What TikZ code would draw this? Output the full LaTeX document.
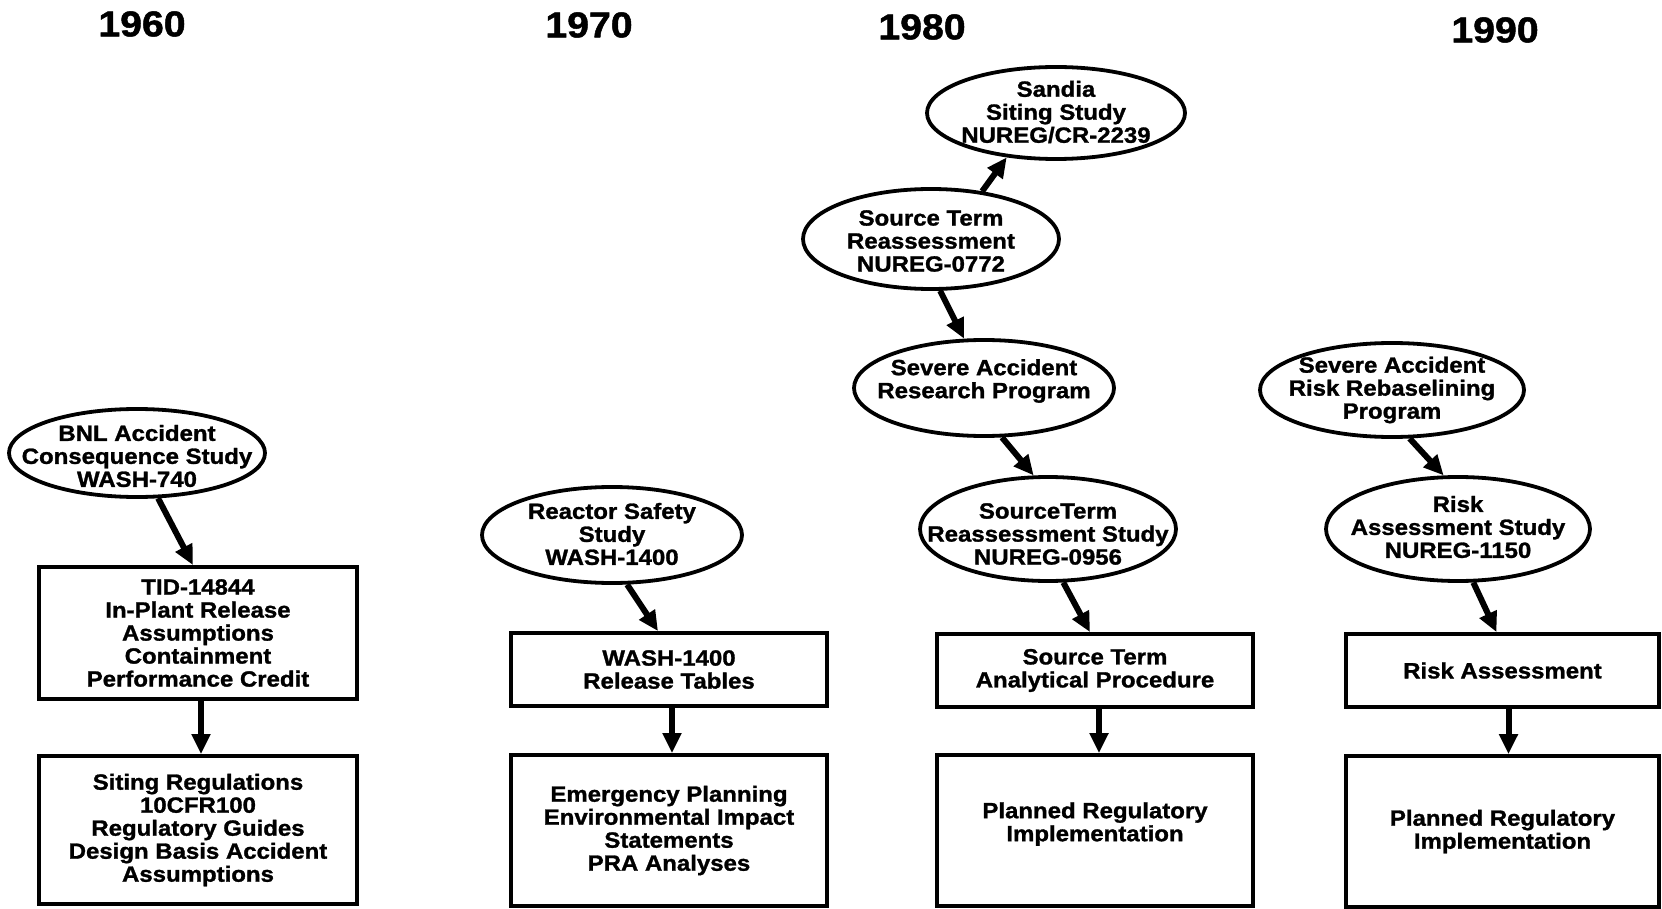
\documentclass[tikz,border=0pt]{standalone}
\usepackage{fontspec}
\setmainfont{Liberation Sans}[FakeStretch=1.09, BoldFeatures={FakeBold=1.3}]
\usetikzlibrary{shapes.geometric,arrows.meta}
\newcommand\dgfont{\fontsize{22}{23}\selectfont\bfseries}
\newcommand\yrfont{\fontsize{36}{36}\selectfont\bfseries\addfontfeatures{FakeBold=2.5}}
\begin{document}
\begin{tikzpicture}[x=1pt,y=-1pt,
  ell/.style={ellipse, draw, line width=3.8pt, inner sep=0pt},
  box/.style={rectangle, draw, line width=3.8pt, inner sep=0pt, align=center, font=\dgfont},
  etxt/.style={align=center, font=\dgfont, inner sep=0pt},
  year/.style={font=\yrfont, inner sep=0pt},
  arr/.style={line width=6pt, -{Triangle[length=20pt,width=18pt]}}]
\useasboundingbox (0,0) rectangle (1662,909);
% years
\node[year] (y60) at (142,24) {1960};
\node[year] (y70) at (589,25) {1970};
\node[year] (y80) at (922,27) {1980};
\node[year] (y90) at (1495,30) {1990};
% column 1960
\node[ell, minimum width=256pt, minimum height=88pt] (bnl) at (137,453) {};
\node[etxt] (bnlt) at (137,456) {BNL Accident\\Consequence Study\\WASH-740};
\node[box, minimum width=318pt, minimum height=132pt] (tid) at (198,633) {TID-14844\\In-Plant Release\\Assumptions\\Containment\\Performance Credit};
\node[box, minimum width=318pt, minimum height=148pt] (sit) at (198,830) {Siting Regulations\\10CFR100\\Regulatory Guides\\Design Basis Accident\\Assumptions};
% column 1970
\node[ell, minimum width=260pt, minimum height=96pt] (rss) at (612,535) {};
\node[etxt] (rsst) at (612,534) {Reactor Safety\\Study\\WASH-1400};
\node[box, minimum width=316pt, minimum height=73pt] (wash) at (669,669.5) {WASH-1400\\Release Tables};
\node[box, minimum width=316pt, minimum height=151pt] (emg) at (669,830.5) {Emergency Planning\\Environmental Impact\\Statements\\PRA Analyses};
% column 1980
\node[ell, minimum width=258pt, minimum height=92pt] (san) at (1056,113) {};
\node[etxt] (sant) at (1056,112) {Sandia\\Siting Study\\NUREG/CR-2239};
\node[ell, minimum width=256pt, minimum height=100pt] (st) at (931,239) {};
\node[etxt] (stt) at (931,241) {Source Term\\Reassessment\\NUREG-0772};
\node[ell, minimum width=260pt, minimum height=96pt] (sarp) at (984,388) {};
\node[etxt] (sarpt) at (984,381) {Severe Accident\\Research Program};
\node[ell, minimum width=256pt, minimum height=104pt] (n56) at (1048,529) {};
\node[etxt] (n56t) at (1048,534) {SourceTerm\\Reassessment Study\\NUREG-0956};
\node[box, minimum width=316pt, minimum height=73pt] (stap) at (1095,670.5) {Source Term\\Analytical Procedure};
\node[box, minimum width=316pt, minimum height=151pt] (pl3) at (1095,830.5) {};
\node[etxt] (pl3t) at (1095,824) {Planned Regulatory\\Implementation};
% column 1990
\node[ell, minimum width=264pt, minimum height=94pt] (sarr) at (1392,390) {};
\node[etxt] (sarrt) at (1392,390) {Severe Accident\\Risk Rebaselining\\Program};
\node[ell, minimum width=264pt, minimum height=104pt] (risk) at (1458,529) {};
\node[etxt] (riskt) at (1458,527) {Risk\\Assessment Study\\NUREG-1150};
\node[box, minimum width=313pt, minimum height=73pt] (ra) at (1502.5,670.5) {Risk Assessment};
\node[box, minimum width=313pt, minimum height=151pt] (pl4) at (1502.5,831.5) {Planned Regulatory\\Implementation};
% connectors
\draw[arr] (bnl.-65) -- ([xshift=-5pt]tid.north);
\draw[arr] ([xshift=3pt]tid.south) -- ([xshift=3pt]sit.north);
\draw[arr] (rss.-73) -- ([xshift=-11pt]wash.north);
\draw[arr] ([xshift=3pt]wash.south) -- ([xshift=3pt]emg.north);
\draw[arr] (st.43) -- (san.-138);
\draw[arr] (st.-80) -- (sarp.112);
\draw[arr] (sarp.-70) -- (n56.105);
\draw[arr] (n56.-74) -- ([xshift=-5pt]stap.north);
\draw[arr] ([xshift=4pt]stap.south) -- ([xshift=4pt]pl3.north);
\draw[arr] (sarr.-70) -- (risk.105);
\draw[arr] (risk.-74) -- ([xshift=-6pt]ra.north);
\draw[arr] ([xshift=6pt]ra.south) -- ([xshift=6pt]pl4.north);
\end{tikzpicture}
\end{document}
